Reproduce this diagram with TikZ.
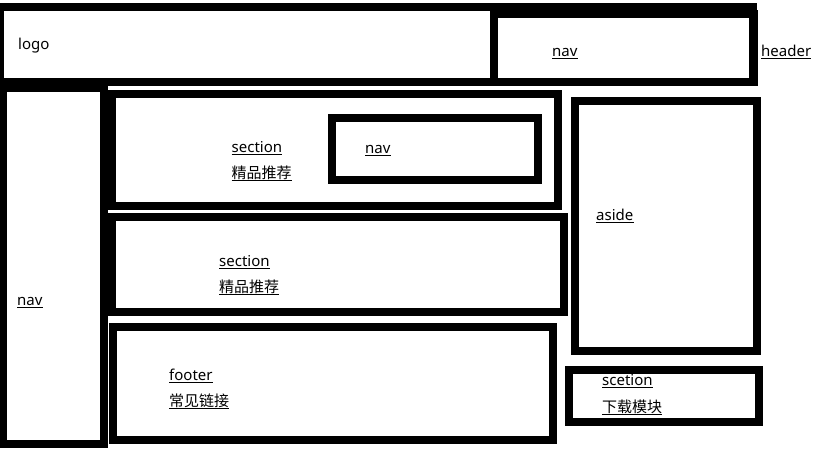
\documentclass[tikz,border=0pt]{standalone}
\usepackage{fontspec}
\setmainfont{Noto Sans}
\newfontfamily\cjk{Noto Sans CJK SC}
% a link label: text set on its baseline, with a thin rule under it
\newcommand\lnk[3]{%
  \node[lbl] (#1) at (#2) {#3};
  \draw[uline] ([yshift=-2pt]#1.base west) -- ([yshift=-2pt]#1.base east);}
\begin{document}
\begin{tikzpicture}[x=1pt,y=-1pt,
  box/.style={draw=black,line width=8pt},
  lbl/.style={anchor=base west,inner sep=0pt,font=\fontsize{15}{18}\selectfont,text=black},
  uline/.style={line width=1pt,draw=black}]
\useasboundingbox[fill=white] (0,0) rectangle (819,460);

% page frame blocks
\draw[box] (0,7) rectangle (753,82);            % header
\draw[box] (494,14) rectangle (754,82);         % nav inside the header
\draw[box,line width=7.5pt] (3.5,88) rectangle (104,444); % side nav
\draw[box] (112,94) rectangle (558,206);        % first section
\draw[box] (332,118) rectangle (538,180);       % nav inside the first section
\draw[box] (112,217) rectangle (564,311.5);     % second section
\draw[box] (113,327) rectangle (552.5,440);     % footer
\draw[box] (575,101) rectangle (757,350.5);     % aside
\draw[box] (569,370) rectangle (758.7,421.7);   % download block

% labels
\node[lbl] (logo) at (18,50) {logo};
\lnk{hnav}{552,56.5}{nav}
\lnk{header}{761,56.5}{header}
\lnk{snav}{17,305}{nav}
\lnk{sec1}{231.5,152}{section}
\lnk{sec1cn}{231.5,178.5}{\cjk 精品推荐}
\lnk{inav}{365,153}{nav}
\lnk{sec2}{219,266}{section}
\lnk{sec2cn}{219,292.5}{\cjk 精品推荐}
\lnk{aside}{596,220.5}{aside}
\lnk{foot}{169,380}{footer}
\lnk{footcn}{169,406.5}{\cjk 常见链接}
\lnk{dl}{602,385.5}{scetion}
\lnk{dlcn}{602,412}{\cjk 下载模块}
\end{tikzpicture}
\end{document}
